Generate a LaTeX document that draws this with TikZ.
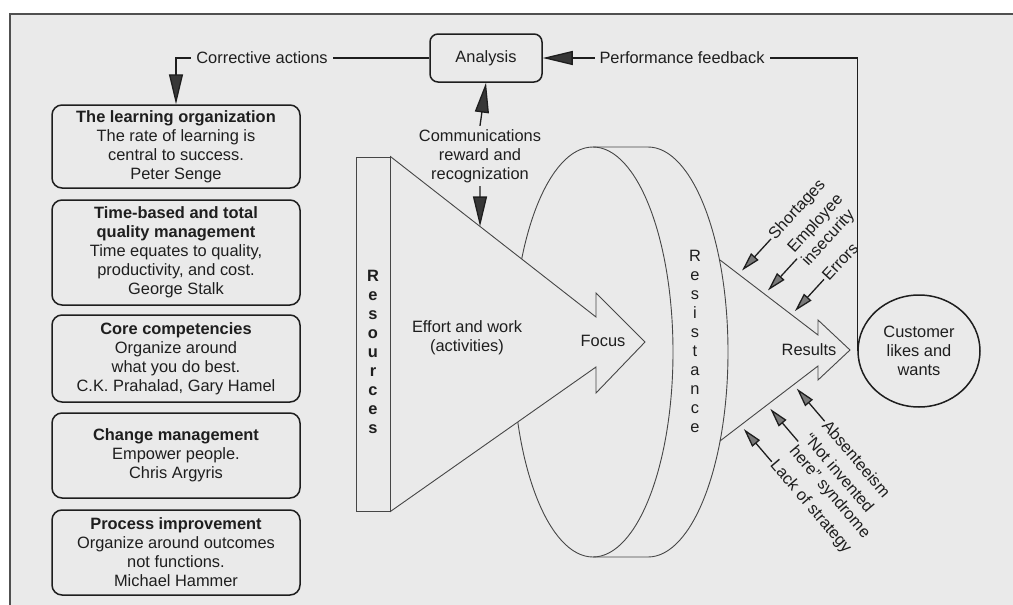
\documentclass[tikz,border=0pt]{standalone}
\usepackage{fontspec}
\setmainfont{Liberation Sans}
\usetikzlibrary{arrows.meta,calc,shapes.geometric}
\definecolor{paper}{RGB}{234,234,234}
\definecolor{ink}{RGB}{30,30,30}
\definecolor{edge}{RGB}{70,70,70}
\definecolor{framecol}{RGB}{80,80,80}
\definecolor{headdark}{RGB}{55,55,55}
\definecolor{headgray}{RGB}{120,120,120}
\begin{document}
\begin{tikzpicture}[x=1pt,y=-1pt,
  every node/.style={text=ink, font=\fontsize{16.4}{19}\selectfont},
  concept/.style={draw=ink, line width=1.5pt, rounded corners=10pt,
    minimum width=248pt, align=center, inner sep=2pt},
  outline/.style={draw=edge, line width=0.9pt},
  darrow/.style={draw=ink, line width=1.3pt,
    -{Triangle[length=30pt,width=14pt,fill=headdark]}},
  garrow/.style={draw=ink, line width=1.3pt,
    -{Triangle[length=19pt,width=10pt,fill=headgray]}},
  rlab/.style={inner sep=1.5pt, align=left},
  boldlbl/.style={font=\fontsize{16.4}{19}\selectfont\bfseries, align=center},
  stack/.style={align=center}]
\useasboundingbox (0,0) rectangle (1013,605);

% paper and frame
\fill[paper] (9,13) rectangle (1013,605);
\draw[framecol, line width=1.8pt] (1013,14) -- (10,14) -- (10,605);

% cylinder of resistance
\coordinate (lc) at (593,352);
\draw[outline] (lc) ellipse [x radius=80, y radius=205];
\draw[outline] (593,147) -- (648,147)
  arc[start angle=-90, end angle=90, x radius=80, y radius=205] -- (593,557);

% resources bar and effort arrow
\node[outline, fill=paper, minimum width=34pt, minimum height=354pt, inner sep=0pt]
  (res) at (373,334) {};
\coordinate (nU) at (596,317);
\coordinate (bU) at (596,293);
\coordinate (tipA) at (645,342);
\coordinate (bL) at (596,393);
\coordinate (nL) at (596,367);
\draw[outline, fill=paper] (res.north east) -- (nU) -- (bU) -- (tipA) -- (bL) -- (nL)
  -- (res.south east) -- cycle;
\node[boldlbl] (reslbl) at (373,352) {R\\e\\s\\o\\u\\r\\c\\e\\s};
\node[stack] (effort) at (467,337.5) {Effort and work\\(activities)};
\node (focus) at (603,341) {Focus};

% results arrow
\coordinate (ru1) at (720,260);
\coordinate (ru2) at (818,335);
\coordinate (rl1) at (720,441);
\coordinate (rl2) at (818,366);
\draw[outline] (ru1) -- (ru2) -- (818,320) -- (850,350) -- (818,380) -- (rl2) -- (rl1);
\node[stack] (resist) at (695,341) {R\\e\\s\\i\\s\\t\\a\\n\\c\\e};
\node (results) at (809,350) {Results};

% customer
\node[ellipse, draw=ink, line width=1.5pt, minimum width=122pt, minimum height=112pt,
  inner sep=0pt, align=center] (customer) at (919,351) {Customer\\likes and\\wants};

% analysis loop
\node[draw=ink, line width=1.5pt, rounded corners=8pt, minimum width=112pt,
  minimum height=48pt] (analysis) at (486,58) {Analysis};
\node[stack] (comm) at (480,156) {Communications\\reward and\\recognization};

% management concepts
\node[concept, minimum height=83pt] (box1) at (176,146.5)
  {\textbf{The learning organization}\\The rate of learning is\\central to success.\\Peter Senge};
\node[concept, minimum height=105pt] (box2) at (176,252.5)
  {\textbf{Time-based and total}\\\textbf{quality management}\\Time equates to quality,\\productivity, and cost.\\George Stalk};
\node[concept, minimum height=87pt] (box3) at (176,358.5)
  {\textbf{Core competencies}\\Organize around\\what you do best.\\C.K. Prahalad, Gary Hamel};
\node[concept, minimum height=85pt] (box4) at (176,455.5)
  {\textbf{Change management}\\Empower people.\\Chris Argyris};
\node[concept, minimum height=85pt] (box5) at (176,552.5)
  {\textbf{Process improvement}\\Organize around outcomes\\not functions.\\Michael Hammer};

% feedback connectors
\draw[darrow] (analysis.west) -| (box1.north);
\node[fill=paper, inner xsep=5pt] (corr) at (262,58) {Corrective actions};
\draw[darrow] (customer.west) |- (analysis.east);
\node[fill=paper, inner xsep=5pt] (perf) at (682,58) {Performance feedback};
\draw[darrow] (comm.north) -- (analysis.south);
\coordinate (hit) at (intersection of comm.north--comm.south and res.north east--nU);
\draw[darrow] (comm.south) -- (hit);

% forces of resistance, upper side
\coordinate (tS) at ($(ru1)!0.19!(ru2)+(-47.5:5)$);
\coordinate (tE) at ($(ru1)!0.455!(ru2)+(-47.5:5)$);
\coordinate (tR) at ($(ru1)!0.73!(ru2)+(-47.5:5)$);
\node[rlab, rotate=47.5, anchor=west] (short) at ($(tS)+(-47.5:43)$) {Shortages};
\node[rlab, rotate=47.5, anchor=west] (insec) at ($(tE)+(-47.5:43)$) {Employee\\insecurity};
\node[rlab, rotate=47.5, anchor=west] (errs) at ($(tR)+(-47.5:43)$) {Errors};
\draw[garrow] (short.west) -- (tS);
\draw[garrow] (insec.west) -- (tE);
\draw[garrow] (errs.west) -- (tR);

% forces of resistance, lower side
\coordinate (tA) at ($(rl1)!0.75!(rl2)+(49.5:5)$);
\coordinate (tN) at ($(rl1)!0.48!(rl2)+(49.5:5)$);
\coordinate (tL) at ($(rl1)!0.21!(rl2)+(49.5:5)$);
\node[rlab, rotate=-49.5, anchor=west] (absent) at ($(tA)+(49.5:43)$) {Absenteeism};
\node[rlab, rotate=-49.5, anchor=west] (nih) at ($(tN)+(49.5:43)$) {“Not invented\\here” syndrome};
\node[rlab, rotate=-49.5, anchor=west] (lack) at ($(tL)+(49.5:43)$) {Lack of strategy};
\draw[garrow] (absent.west) -- (tA);
\draw[garrow] (nih.west) -- (tN);
\draw[garrow] (lack.west) -- (tL);
\end{tikzpicture}
\end{document}
